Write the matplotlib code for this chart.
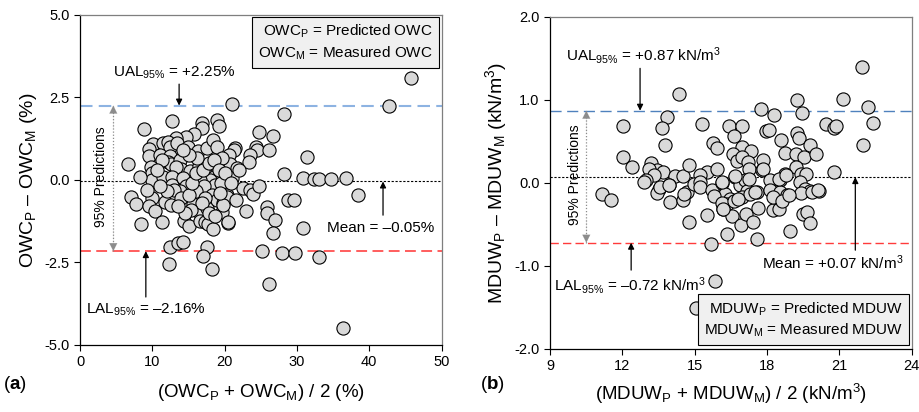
import matplotlib
matplotlib.use("Agg")
import matplotlib.pyplot as plt

plt.rcParams["font.family"] = ["Liberation Sans", "DejaVu Sans"]
plt.rcParams["mathtext.fontset"] = "custom"
plt.rcParams["mathtext.rm"] = "Liberation Sans"
plt.rcParams["mathtext.it"] = "Liberation Sans:italic"
plt.rcParams["mathtext.bf"] = "Liberation Sans:bold"
plt.rcParams["axes.unicode_minus"] = False

# OWC: mean of predicted/measured (%) vs difference (%)
owc_mean = [45.7, 42.7, 21.0, 28.2, 12.7, 8.8, 16.8, 16.9, 19.0, 19.2, 24.8, 26.7, 15.7, 14.6, 13.3,
            10.1, 11.5, 12.2, 12.4, 13.4, 14.9, 16.3, 17.6, 18.4, 18.9, 9.6, 9.5, 11.0, 12.4, 12.2,
            12.6, 11.3, 13.8, 14.0, 13.3, 15.2, 16.4, 17.6, 18.5, 18.0, 18.6, 6.7, 9.8, 10.0, 9.9,
            11.5, 12.7, 12.7, 14.3, 14.6, 15.9, 16.6, 17.1, 21.4, 21.3, 24.4, 24.5, 23.5, 23.4, 26.1,
            20.6, 20.7, 21.7, 19.6, 31.4, 28.2, 30.8, 32.4, 33.1, 34.7, 36.8, 21.0, 22.5, 23.5, 23.9,
            24.8, 19.8, 20.3, 38.5, 7.1, 7.7, 9.9, 9.6, 10.4, 11.8, 12.6, 13.8, 15.6, 16.5, 17.5,
            16.1, 18.2, 18.9, 19.8, 19.6, 8.4, 11.4, 14.4, 15.0, 16.6, 17.3, 17.7, 18.4, 20.5, 12.5,
            13.6, 14.2, 12.3, 17.5, 17.0, 18.3, 22.9, 25.8, 25.9, 26.9, 26.7, 30.8, 25.2, 27.9, 29.7,
            33.1, 26.1, 36.4, 28.7, 29.6, 20.3, 20.4, 19.8, 13.0, 14.0, 15.0, 15.5, 16.0, 17.0, 17.8,
            18.5, 19.2, 19.5, 20.0, 17.3, 16.8, 15.3, 14.5, 13.5, 12.0, 11.0, 10.7, 9.2, 8.3, 17.9,
            18.7, 19.3, 20.9, 22.0, 21.5, 16.2, 15.1, 14.2]
owc_diff = [3.08, 2.25, 2.29, 1.99, 1.77, 1.53, 1.72, 1.58, 1.82, 1.64, 1.45, 1.33, 1.39, 1.29, 1.26,
            1.08, 1.11, 1.15, 1.01, 1.13, 1.01, 0.86, 0.96, 1.21, 1.01, 0.94, 0.73, 0.76, 0.71, 0.55,
            0.48, 0.61, 0.61, 0.34, 0.38, 0.26, 0.42, 0.14, 0.08, 0.00, -0.15, 0.48, 0.40, 0.22, -0.02,
            0.10, 0.08, -0.15, 0.05, -0.20, -0.18, -0.02, -0.20, 0.96, 0.89, 1.01, 0.89, 0.76, 0.55, 0.91,
            0.76, 0.48, 0.35, 0.66, 0.69, 0.18, 0.06, 0.03, 0.04, 0.02, 0.05, 0.07, -0.25, -0.30, -0.42,
            -0.18, -0.20, -0.45, -0.47, -0.51, -0.73, -0.56, -0.79, -0.93, -0.66, -0.76, -0.35, -0.73, -0.96, -0.86,
            -0.35, -0.45, -0.61, -0.71, -0.96, -1.35, -1.28, -1.26, -1.39, -1.26, -1.29, -1.33, -1.49, -1.31, -2.04,
            -1.92, -1.88, -2.55, -2.04, -2.32, -2.69, -0.93, -0.81, -1.00, -1.22, -1.60, -1.45, -2.15, -2.23, -2.22,
            -2.33, -3.16, -4.50, -0.60, -0.61, -0.51, -1.28, -0.76, -0.30, -0.55, -0.45, -0.10, 0.20, 0.30, 0.50,
            0.60, 0.30, -0.10, 0.20, -0.55, -0.70, -0.90, -1.00, -0.80, -0.35, -0.20, 0.30, -0.30, 0.10, -1.00,
            -1.10, -0.40, -0.10, 0.30, -0.60, 0.65, 0.75, 0.90]
owc_ual, owc_lal, owc_bias = 2.25, -2.16, -0.05

# MDUW: mean of predicted/measured (kN/m3) vs difference (kN/m3)
mduw_mean = [21.93, 21.15, 22.17, 22.39, 21.96, 14.35, 19.24, 19.45, 17.76, 18.30, 12.02, 13.84, 13.63,
             13.77, 15.30, 16.40, 16.95, 17.97, 18.08, 18.58, 19.25, 19.31, 20.44, 20.78, 20.87, 12.04,
             12.41, 15.75, 15.94, 16.61, 16.96, 17.33, 16.60, 16.76, 16.96, 17.21, 17.23, 17.82, 17.78,
             18.75, 19.19, 19.52, 19.76, 20.02, 19.21, 19.40, 19.62, 20.78, 13.18, 13.43, 13.70, 13.08,
             13.29, 12.98, 14.19, 14.51, 14.74, 15.50, 15.92, 15.22, 11.14, 11.52, 13.52, 13.43, 13.94,
             13.98, 14.51, 14.67, 14.95, 15.22, 15.22, 15.71, 16.12, 16.26, 16.47, 16.33, 16.65, 16.86,
             17.09, 17.16, 16.95, 17.30, 17.58, 17.85, 18.13, 18.13, 18.54, 18.54, 18.75, 18.82, 19.37,
             19.58, 19.79, 20.17, 19.40, 15.85, 15.03, 14.78, 15.50, 15.67, 16.33, 16.19, 16.54, 16.93,
             17.11, 17.41, 17.58, 17.61, 18.24, 18.49, 18.93, 19.51, 19.65, 19.79, 15.78, 16.12, 16.19,
             16.61, 16.81, 17.51, 18.26, 18.61, 18.89, 19.86, 20.13, 16.68, 17.23, 18.51, 18.79, 16.12,
             12.91, 13.56, 13.95, 14.56]
mduw_diff = [1.40, 1.01, 0.92, 0.72, 0.46, 1.07, 1.00, 0.84, 0.89, 0.82, 0.68, 0.79, 0.66,
             0.46, 0.71, 0.69, 0.68, 0.62, 0.64, 0.52, 0.60, 0.54, 0.71, 0.66, 0.68, 0.31,
             0.19, 0.48, 0.42, 0.56, 0.43, 0.39, 0.35, 0.27, 0.31, 0.25, 0.17, 0.28, 0.16,
             0.36, 0.35, 0.31, 0.46, 0.35, 0.19, 0.11, 0.11, 0.13, 0.24, 0.16, 0.13, 0.17,
             0.09, 0.03, 0.08, 0.08, 0.21, 0.13, 0.17, 0.09, -0.13, -0.21, -0.07, -0.12, -0.03,
             -0.23, -0.21, -0.11, -0.01, 0.01, -0.05, -0.09, 0.00, -0.13, -0.19, -0.25, 0.07, -0.02,
             0.03, -0.10, -0.17, -0.13, -0.11, 0.17, 0.03, -0.09, 0.03, -0.11, 0.11, -0.15, 0.01,
             -0.07, -0.10, -0.10, -0.12, -1.18, -1.51, -0.47, -0.39, -0.74, -0.61, -0.31, -0.40, -0.51,
             -0.37, -0.47, -0.68, -0.30, -0.33, -0.31, -0.58, -0.38, -0.35, -0.48, -0.16, -0.24, -0.32,
             -0.22, -0.19, -0.11, -0.17, -0.22, -0.15, -0.11, -0.09, 0.08, 0.05, 0.05, 0.09, 0.01,
             0.01, -0.05, -0.03, -0.13]
mduw_ual, mduw_lal, mduw_bias = 0.87, -0.72, 0.07

fig = plt.figure(figsize=(9.2, 4.12), dpi=100)
ax1 = fig.add_axes([0.087, 0.163, 0.393, 0.801])
ax2 = fig.add_axes([0.598, 0.153, 0.393, 0.806])

arrow_kw = dict(arrowstyle="-|>", color="black", lw=0.9, mutation_scale=9, shrinkA=0, shrinkB=0)
grey_kw = dict(arrowstyle="-|>", color="#8c8c8c", lw=0.1, mutation_scale=14, shrinkA=0, shrinkB=0)

DASH = "\u2013"


def style_axes(ax):
    for side in ["top", "right"]:
        ax.spines[side].set_color("#7f7f7f")
    for side in ["left", "bottom"]:
        ax.spines[side].set_color("black")
    for sp in ax.spines.values():
        sp.set_linewidth(0.9)
    ax.tick_params(direction="out", length=4, width=0.8, labelsize=10.5, top=False, right=False)


def span_arrow(ax, x, lo, hi, span):
    # dotted spine with solid grey heads at both limits
    ax.plot([x, x], [lo, hi], color="#8c8c8c", lw=0.9, ls=(0, (1, 1.5)))
    ax.annotate("", xy=(x, hi), xytext=(x, hi - span), arrowprops=grey_kw)
    ax.annotate("", xy=(x, lo), xytext=(x, lo + span), arrowprops=grey_kw)


# (a) OWC
style_axes(ax1)
ax1.scatter(owc_mean, owc_diff, s=90, facecolor="#d9d9d9", edgecolor="black", linewidth=0.8, zorder=3)
ax1.axhline(owc_ual, color="#8db3e2", lw=1.5, ls=(0, (6, 3)), zorder=1)
ax1.axhline(owc_bias, color="black", lw=0.8, ls=(0, (2, 1.5)), zorder=1)
ax1.axhline(owc_lal, color="#ff5050", lw=1.3, ls=(0, (6, 3)), zorder=1)
ax1.set_xlim(0, 50)
ax1.set_ylim(-5, 5)
ax1.set_xticks([0, 10, 20, 30, 40, 50])
ax1.set_yticks([5.0, 2.5, 0.0, -2.5, -5.0])
ax1.yaxis.set_major_formatter(matplotlib.ticker.FormatStrFormatter("%.1f"))
ax1.set_ylabel(r"OWC$_{\rm P}$ " + DASH + r" OWC$_{\rm M}$ (%)", fontsize=14, labelpad=4)
ax1.set_xlabel(r"(OWC$_{\rm P}$ + OWC$_{\rm M}$) / 2 (%)", fontsize=13.5, labelpad=9)

ax1.text(13.1, 3.24, r"UAL$_{95\%}$ = +2.25%", fontsize=11, ha="center", va="center")
ax1.annotate("", xy=(13.7, owc_ual), xytext=(13.7, 2.9), arrowprops=arrow_kw)
ax1.text(41.6, -1.45, "Mean = " + DASH + "0.05%", fontsize=11, ha="center", va="center")
ax1.annotate("", xy=(41.9, owc_bias), xytext=(41.9, -1.07), arrowprops=arrow_kw)
ax1.text(9.1, -3.94, r"LAL$_{95\%}$ = " + DASH + "2.16%", fontsize=11, ha="center", va="center")
ax1.annotate("", xy=(9.1, owc_lal), xytext=(9.1, -3.55), arrowprops=arrow_kw)
span_arrow(ax1, 4.6, owc_lal, owc_ual, 0.7)
ax1.text(2.9, 0.1, "95% Predictions", fontsize=10, rotation=90, ha="center", va="center")
ax1.text(0.975, 0.975, "OWC$_{\\rm P}$ = Predicted OWC\nOWC$_{\\rm M}$ = Measured OWC",
         transform=ax1.transAxes, fontsize=11, ha="right", va="top", linespacing=1.3,
         bbox=dict(boxstyle="square,pad=0.4", facecolor="#f0f0f0", edgecolor="black", lw=0.8))

# (b) MDUW
style_axes(ax2)
ax2.scatter(mduw_mean, mduw_diff, s=90, facecolor="#d9d9d9", edgecolor="black", linewidth=0.8, zorder=3)
ax2.axhline(mduw_ual, color="#4f81bd", lw=1.0, ls=(0, (8, 4)), zorder=1)
ax2.axhline(mduw_bias, color="black", lw=0.8, ls=(0, (2, 1.5)), zorder=1)
ax2.axhline(mduw_lal, color="#ff3b3b", lw=1.0, ls=(0, (6, 3)), zorder=1)
ax2.set_xlim(9, 24)
ax2.set_ylim(-2, 2)
ax2.set_xticks([9, 12, 15, 18, 21, 24])
ax2.set_yticks([2.0, 1.0, 0.0, -1.0, -2.0])
ax2.yaxis.set_major_formatter(matplotlib.ticker.FormatStrFormatter("%.1f"))
ax2.set_ylabel(r"MDUW$_{\rm P}$ " + DASH + r" MDUW$_{\rm M}$ (kN/m$^3$)", fontsize=14, labelpad=4)
ax2.set_xlabel(r"(MDUW$_{\rm P}$ + MDUW$_{\rm M}$) / 2 (kN/m$^3$)", fontsize=13.5, labelpad=6)

ax2.text(12.86, 1.54, r"UAL$_{95\%}$ = +0.87 kN/m$^3$", fontsize=11, ha="center", va="center")
ax2.annotate("", xy=(12.73, mduw_ual), xytext=(12.73, 1.38), arrowprops=arrow_kw)
ax2.text(20.74, -0.96, r"Mean = +0.07 kN/m$^3$", fontsize=11, ha="center", va="center")
ax2.annotate("", xy=(21.66, mduw_bias), xytext=(21.66, -0.81), arrowprops=arrow_kw)
ax2.text(12.3, -1.24, r"LAL$_{95\%}$ = " + DASH + r"0.72 kN/m$^3$", fontsize=11, ha="center", va="center")
ax2.annotate("", xy=(12.36, mduw_lal), xytext=(12.36, -1.05), arrowprops=arrow_kw)
span_arrow(ax2, 10.5, mduw_lal, mduw_ual, 0.28)
ax2.text(10.04, 0.1, "95% Predictions", fontsize=10, rotation=90, ha="center", va="center")
ax2.text(0.975, 0.03, "MDUW$_{\\rm P}$ = Predicted MDUW\nMDUW$_{\\rm M}$ = Measured MDUW",
         transform=ax2.transAxes, fontsize=11, ha="right", va="bottom", linespacing=1.3,
         bbox=dict(boxstyle="square,pad=0.4", facecolor="#f0f0f0", edgecolor="black", lw=0.8))

fig.text(0.003, 0.066, r"($\mathbf{a}$)", fontsize=13.5, ha="left", va="center")
fig.text(0.522, 0.066, r"($\mathbf{b}$)", fontsize=13.5, ha="left", va="center")

fig.savefig("out.png", dpi=100)
